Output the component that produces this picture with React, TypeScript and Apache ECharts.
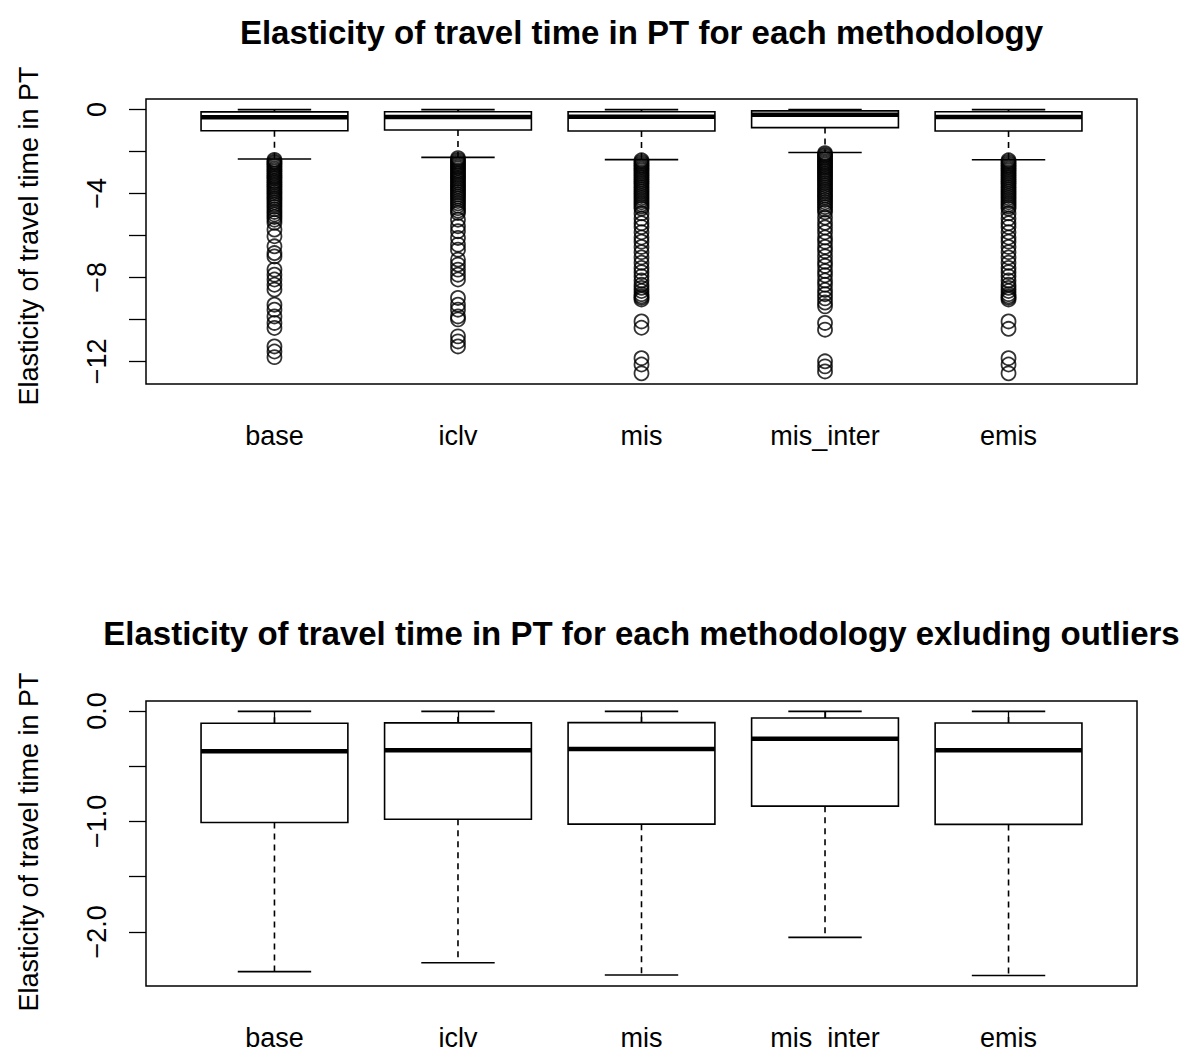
import React, { useEffect, useRef } from "react";
import * as echarts from "echarts";

const categories = ["base", "iclv", "mis", "mis_inter", "emis"];

// [lower whisker, Q1, median, Q3, upper whisker]
const boxBase = [-2.36, -1.01, -0.365, -0.112, -0.004];
const boxIclv = [-2.28, -0.98, -0.355, -0.108, -0.004];
const boxMis = [-2.39, -1.025, -0.345, -0.106, -0.004];
const boxMisInter = [-2.05, -0.862, -0.252, -0.064, -0.004];
const boxEmis = [-2.395, -1.027, -0.355, -0.109, -0.004];

// outliers (top panel only)
const outBase = [
  -2.4, -2.48, -2.55, -2.63, -2.71, -2.8, -2.88, -2.96, -3.05, -3.14, -3.22, -3.3, -3.4, -3.48,
  -3.57, -3.66, -3.75, -3.84, -3.93, -4.02, -4.12, -4.22, -4.31, -4.42, -4.53, -4.64, -4.76,
  -4.88, -5.0, -5.12, -5.25, -5.4, -5.72, -6.04, -6.52, -6.84, -7.0, -7.63, -7.87, -8.1, -8.35,
  -8.58, -9.3, -9.54, -9.86, -10.17, -10.41, -11.29, -11.53, -11.8,
];
const outIclv = [
  -2.32, -2.4, -2.48, -2.56, -2.64, -2.72, -2.8, -2.89, -2.97, -3.06, -3.14, -3.23, -3.31, -3.4,
  -3.49, -3.58, -3.67, -3.76, -3.86, -3.95, -4.05, -4.15, -4.25, -4.36, -4.47, -4.58, -4.7,
  -4.82, -4.93, -5.25, -5.56, -5.8, -6.12, -6.44, -6.68, -7.15, -7.39, -7.63, -7.87, -8.1,
  -8.98, -9.3, -9.54, -9.86, -10.0, -10.81, -11.05, -11.29,
];
const outMis = [
  -2.42, -2.5, -2.58, -2.66, -2.74, -2.82, -2.9, -2.99, -3.07, -3.16, -3.25, -3.34, -3.43,
  -3.52, -3.62, -3.72, -3.82, -3.92, -4.02, -4.12, -4.22, -4.32, -4.42, -4.52, -4.62, -4.72,
  -4.95, -5.2, -5.42, -5.6, -5.85, -6.1, -6.3, -6.55, -6.8, -7.05, -7.3, -7.55, -7.75,
  -7.95, -8.15, -8.35, -8.5, -8.65, -8.8, -8.9, -8.97, -9.05, -10.1, -10.4, -11.85, -12.15,
  -12.57,
];
const outMisInter = [
  -2.08, -2.15, -2.22, -2.3, -2.38, -2.46, -2.54, -2.62, -2.7, -2.78, -2.87, -2.95, -3.04,
  -3.13, -3.22, -3.31, -3.4, -3.5, -3.6, -3.7, -3.8, -3.9, -4.0, -4.1, -4.2, -4.31, -4.42,
  -4.53, -4.65, -4.77, -4.9, -5.15, -5.4, -5.62, -5.85, -6.1, -6.3, -6.55, -6.75, -7.0,
  -7.25, -7.45, -7.7, -7.9, -8.15, -8.35, -8.6, -8.8, -9.0, -9.2, -9.38, -10.17, -10.49,
  -12.0, -12.24, -12.48,
];
const outEmis = [
  -2.42, -2.5, -2.58, -2.66, -2.74, -2.82, -2.9, -2.99, -3.07, -3.16, -3.25, -3.34, -3.43,
  -3.52, -3.62, -3.72, -3.82, -3.92, -4.02, -4.12, -4.22, -4.32, -4.42, -4.52, -4.62, -4.72,
  -4.95, -5.2, -5.42, -5.6, -5.85, -6.1, -6.3, -6.55, -6.8, -7.05, -7.3, -7.55, -7.75,
  -7.95, -8.15, -8.35, -8.5, -8.65, -8.8, -8.9, -8.97, -9.05, -10.1, -10.45, -11.85, -12.15,
  -12.57,
];

const topTicks = [-12, -10, -8, -6, -4, -2, 0];
const topLabels = [-12, -8, -4, 0];
const bottomTicks = [-2, -1.5, -1, -0.5, 0];
const bottomLabels = [-2, -1, 0];

const titleTop = "Elasticity of travel time in PT for each methodology";
const titleBottom = "Elasticity of travel time in PT for each methodology exluding outliers";
const yName = "Elasticity of travel time in PT";

const FONT = '"Liberation Sans", Arial, Helvetica, sans-serif';
const AXIS_FS = 27;
const TITLE_FS = 33;

export default function App() {
  const ref = useRef<HTMLDivElement>(null);

  useEffect(() => {
    if (!ref.current) return;
    const chart = echarts.init(ref.current, null, { renderer: "svg" });

    const boxes = [boxBase, boxIclv, boxMis, boxMisInter, boxEmis];
    const outs = [outBase, outIclv, outMis, outMisInter, outEmis];
    const boxData = boxes.map((b, i) => [i + 1, ...b]);
    const outData: number[][] = [];
    outs.forEach((arr, i) => arr.forEach((v) => outData.push([i + 1, v])));

    const renderBox = (params: any, api: any) => {
      const x = api.value(0);
      const lo = api.coord([x, api.value(1)]);
      const q1 = api.coord([x, api.value(2)]);
      const med = api.coord([x, api.value(3)]);
      const q3 = api.coord([x, api.value(4)]);
      const hi = api.coord([x, api.value(5)]);
      const half = api.size([0.8, 0])[0] / 2;
      const sHalf = api.size([0.4, 0])[0] / 2;
      const cx = lo[0];
      const solid = { stroke: "#000", lineWidth: 1.6, fill: "none" };
      const dashed = { stroke: "#000", lineWidth: 1.6, lineDash: [6, 5], fill: "none" };
      return {
        type: "group",
        children: [
          { type: "line", shape: { x1: cx, y1: q1[1], x2: cx, y2: lo[1] }, style: dashed },
          { type: "line", shape: { x1: cx, y1: q3[1], x2: cx, y2: hi[1] }, style: dashed },
          { type: "line", shape: { x1: cx - sHalf, y1: lo[1], x2: cx + sHalf, y2: lo[1] }, style: solid },
          { type: "line", shape: { x1: cx - sHalf, y1: hi[1], x2: cx + sHalf, y2: hi[1] }, style: solid },
          {
            type: "rect",
            shape: { x: cx - half, y: q3[1], width: half * 2, height: q1[1] - q3[1] },
            style: { stroke: "#000", lineWidth: 1.6, fill: "#fff" },
          },
          { type: "line", shape: { x1: cx - half, y1: med[1], x2: cx + half, y2: med[1] }, style: { stroke: "#000", lineWidth: 4.5 } },
        ],
      };
    };

    const xAxisFor = (gridIndex: number) => ({
      type: "value",
      gridIndex,
      min: 0.3,
      max: 5.7,
      axisLine: { show: false },
      splitLine: { show: false },
      axisTick: {
        show: true,
        customValues: [1, 2, 3, 4, 5],
        length: 17,
        inside: false,
        lineStyle: { color: "#000", width: 1.3 },
      },
      axisLabel: {
        customValues: [1, 2, 3, 4, 5],
        formatter: (v: number) => categories[Math.round(v) - 1] ?? "",
        color: "#000",
        fontSize: AXIS_FS,
        fontFamily: FONT,
        margin: 38,
      },
    });

    const fmtTop = (v: number) => (v < 0 ? "\u2212" + Math.abs(v) : String(v));
    const fmtBottom = (v: number) => (v < 0 ? "\u2212" + Math.abs(v).toFixed(1) : Math.abs(v).toFixed(1));

    const yAxisFor = (gridIndex: number, min: number, max: number, ticks: number[], labels: number[], fmt: any) => ({
      type: "value",
      gridIndex,
      min,
      max,
      axisLine: { show: false },
      splitLine: { show: false },
      axisTick: {
        show: true,
        customValues: ticks,
        length: 17,
        inside: false,
        lineStyle: { color: "#000", width: 1.3 },
      },
      axisLabel: {
        customValues: labels,
        formatter: fmt,
        rotate: 90,
        color: "#000",
        fontSize: AXIS_FS,
        fontFamily: FONT,
        margin: 36,
      },
    });

    const textStyle = (text: string, size: number, bold: boolean) => ({
      text,
      fill: "#000",
      font: `${bold ? "bold " : ""}${size}px ${FONT}`,
      fontSize: size,
      fontWeight: bold ? "bold" : "normal",
      fontFamily: FONT,
      textAlign: "center",
      align: "center",
      textVerticalAlign: "middle",
      verticalAlign: "middle",
    });

    chart.setOption({
      animation: false,
      backgroundColor: "#fff",
      grid: [
        { left: 146, top: 99, width: 991, height: 285, show: true, borderColor: "#000", borderWidth: 1.5, backgroundColor: "transparent" },
        { left: 146, top: 701, width: 991, height: 286, show: true, borderColor: "#000", borderWidth: 1.5, backgroundColor: "transparent" },
      ],
      xAxis: [xAxisFor(0), xAxisFor(1)],
      yAxis: [
        yAxisFor(0, -13.08, 0.5, topTicks, topLabels, fmtTop),
        yAxisFor(1, -2.49, 0.09, bottomTicks, bottomLabels, fmtBottom),
      ],
      graphic: [
        { type: "text", x: 641.5, y: 32, style: textStyle(titleTop, TITLE_FS, true) },
        { type: "text", x: 641.5, y: 633, style: textStyle(titleBottom, TITLE_FS, true) },
        { type: "text", x: 29, y: 236, rotation: Math.PI / 2, style: textStyle(yName, AXIS_FS, false) },
        { type: "text", x: 29, y: 842, rotation: Math.PI / 2, style: textStyle(yName, AXIS_FS, false) },
      ],
      series: [
        {
          type: "custom",
          xAxisIndex: 0,
          yAxisIndex: 0,
          data: boxData,
          renderItem: renderBox,
          encode: { x: 0, y: [1, 2, 3, 4, 5] },
          clip: false,
        },
        {
          type: "scatter",
          xAxisIndex: 0,
          yAxisIndex: 0,
          data: outData,
          symbol: "circle",
          symbolSize: 14,
          itemStyle: { color: "rgba(0,0,0,0)", borderColor: "#000", borderWidth: 1.8 },
          emphasis: { disabled: true },
        },
        {
          type: "custom",
          xAxisIndex: 1,
          yAxisIndex: 1,
          data: boxData,
          renderItem: renderBox,
          encode: { x: 0, y: [1, 2, 3, 4, 5] },
          clip: false,
        },
      ],
    });

    return () => chart.dispose();
  }, []);

  return (
    <div
      ref={ref}
      style={{ position: "fixed", left: 0, top: 0, width: 1193, height: 1051, background: "#fff" }}
    />
  );
}
